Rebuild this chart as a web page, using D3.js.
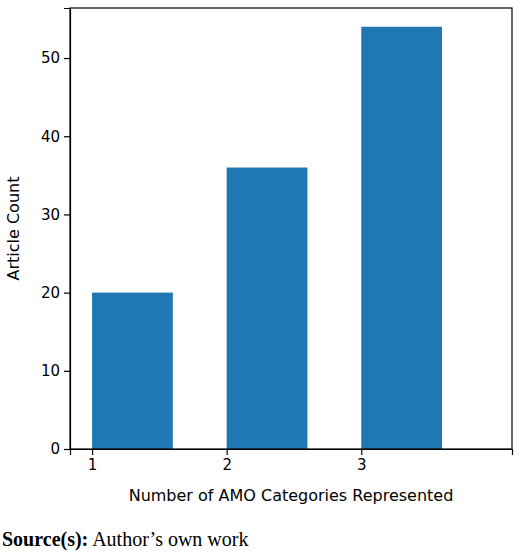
<!DOCTYPE html>
<html>
<head>
<meta charset="utf-8">
<script src="https://cdn.jsdelivr.net/npm/d3@7"></script>
<style>
  body { margin: 0; background: #fff; }
  .axis text { font-family: "DejaVu Sans", sans-serif; font-size: 15px; fill: #000; }
  .axis path, .axis line { stroke: #000; stroke-width: 1.2; }
</style>
</head>
<body>
<div id="chart"></div>
<script>
/* DATA */
const categories = [1, 2, 3];
const counts = [20, 36, 54];
const yTicks = [0, 10, 20, 30, 40, 50];

/* CONSTANTS */
const width = 520, height = 557,
  margin = { top: 8, left: 70, right: 8, bottom: 108 },
  barWidth = 0.6;

const svg = d3.select("#chart").append("svg")
  .attr("width", width)
  .attr("height", height);

const xScale = d3.scaleLinear()
  .domain([0.836, 4.12])
  .range([margin.left, width - margin.right]);

const yScale = d3.scaleLinear()
  .domain([0, 56.4])
  .range([height - margin.bottom, margin.top]);

// bars
svg.selectAll(".bar")
  .data(categories)
  .join("rect")
  .attr("class", "bar")
  .attr("x", d => xScale(d))
  .attr("width", xScale(1 + barWidth) - xScale(1))
  .attr("y", (d, i) => yScale(counts[i]))
  .attr("height", (d, i) => yScale(0) - yScale(counts[i]))
  .attr("fill", "#1f77b4");

// axes
svg.append("g")
  .attr("class", "axis")
  .attr("transform", `translate(0,${height - margin.bottom})`)
  .call(d3.axisBottom(xScale).tickValues(categories).tickFormat(d3.format("d")).tickSizeOuter(0).tickSize(6).tickPadding(4));

svg.append("g")
  .attr("class", "axis")
  .attr("transform", `translate(${margin.left},0)`)
  .call(d3.axisLeft(yScale).tickValues(yTicks).tickSizeOuter(0).tickSize(6).tickPadding(4));

// frame
svg.append("rect")
  .attr("x", margin.left)
  .attr("y", margin.top)
  .attr("width", width - margin.right - margin.left)
  .attr("height", height - margin.bottom - margin.top)
  .attr("fill", "none")
  .attr("stroke", "#000")
  .attr("stroke-width", 1.2);

// axis labels
svg.append("text")
  .attr("x", (margin.left + width - margin.right) / 2)
  .attr("y", 501)
  .attr("text-anchor", "middle")
  .style("font-family", "DejaVu Sans, sans-serif")
  .style("font-size", "16px")
  .text("Number of AMO Categories Represented");

svg.append("text")
  .attr("transform", `translate(19,${(margin.top + height - margin.bottom) / 2}) rotate(-90)`)
  .attr("text-anchor", "middle")
  .style("font-family", "DejaVu Sans, sans-serif")
  .style("font-size", "16px")
  .text("Article Count");

// source line
const src = svg.append("text")
  .attr("x", 2)
  .attr("y", 546)
  .style("font-family", "Liberation Serif, serif")
  .style("font-size", "20px");
src.append("tspan").attr("font-weight", "bold").text("Source(s):");
src.append("tspan").text(" Author’s own work");
</script>
</body>
</html>
